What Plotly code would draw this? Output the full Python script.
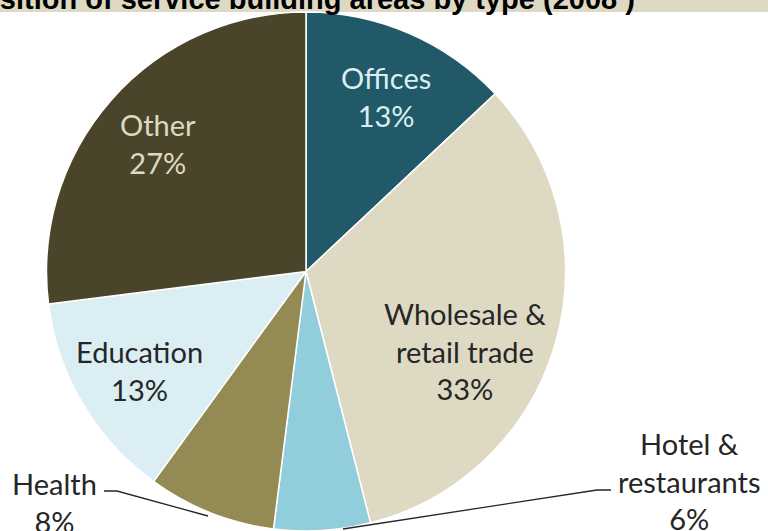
import plotly.graph_objects as go

# ---- data ----
categories = ["Offices", "Wholesale & retail trade", "Hotel & restaurants",
              "Health", "Education", "Other"]
label_lines = [["Offices"], ["Wholesale &", "retail trade"], ["Hotel &", "restaurants"],
               ["Health"], ["Education"], ["Other"]]
shares = [13, 33, 6, 8, 13, 27]
title_text = "Composition of service building areas by type (2008 )"

# ---- styles ----
colors = ["#215968", "#DDD9C3", "#92CDDC", "#948A54", "#DAEEF3", "#4A452A"]
text_colors = ["#DAEEF3", "#262626", "#262626", "#262626", "#262626", "#DDD9C3"]
# label block centres (pixels)
label_pos = [(386, 96), (465, 351), (689, 481), (54, 502), (139, 370), (158, 144)]

W, H = 768, 531


def px(x, y):
    return x / W, 1 - y / H


fig = go.Figure()
fig.add_trace(go.Pie(
    labels=categories,
    values=shares,
    sort=False,
    direction="clockwise",
    rotation=0,
    marker=dict(colors=colors, line=dict(color="white", width=1.5)),
    textinfo="none",
    hoverinfo="label+percent",
    showlegend=False,
    domain=dict(x=[46 / W, 566 / W], y=[0, 519 / H]),
))

annotations = []
for lines, val, (cx, cy), tc in zip(label_lines, shares, label_pos, text_colors):
    txt = "<br>".join(lines + [f"{val}%"])
    x, y = px(cx, cy)
    annotations.append(dict(
        text=txt, x=x, y=y, xref="paper", yref="paper",
        xanchor="center", yanchor="middle", showarrow=False,
        font=dict(family="Lato", size=29, color=tc), align="center",
    ))

tx, ty = px(637, -1.5)
annotations.append(dict(
    text=f"<b>{title_text}</b>", x=tx, y=ty, xref="paper", yref="paper",
    xanchor="right", yanchor="middle", showarrow=False,
    font=dict(family="Liberation Sans, Arial", size=29, color="black"),
))


def path(points):
    s = ""
    for i, (x, y) in enumerate(points):
        xp, yp = px(x, y)
        s += ("M" if i == 0 else " L") + f" {xp:.5f},{yp:.5f}"
    return s


shapes = [
    dict(type="rect", xref="paper", yref="paper", x0=0, x1=1, y0=1 - 12 / H, y1=1,
         fillcolor="#DDD9C3", line=dict(width=0), layer="below"),
    dict(type="path", xref="paper", yref="paper",
         path=path([(104, 491), (117, 491), (208, 516)]),
         line=dict(color="#262626", width=1.3)),
    dict(type="path", xref="paper", yref="paper",
         path=path([(611, 490), (597, 490), (343, 529)]),
         line=dict(color="#262626", width=1.3)),
]

fig.update_layout(
    width=W, height=H,
    margin=dict(l=0, r=0, t=0, b=0),
    paper_bgcolor="white", plot_bgcolor="white",
    annotations=annotations,
    shapes=shapes,
)

fig.write_html("out.html",
               config={"displayModeBar": False},
               post_script="document.body.style.margin='0px';document.body.style.overflow='hidden';")
